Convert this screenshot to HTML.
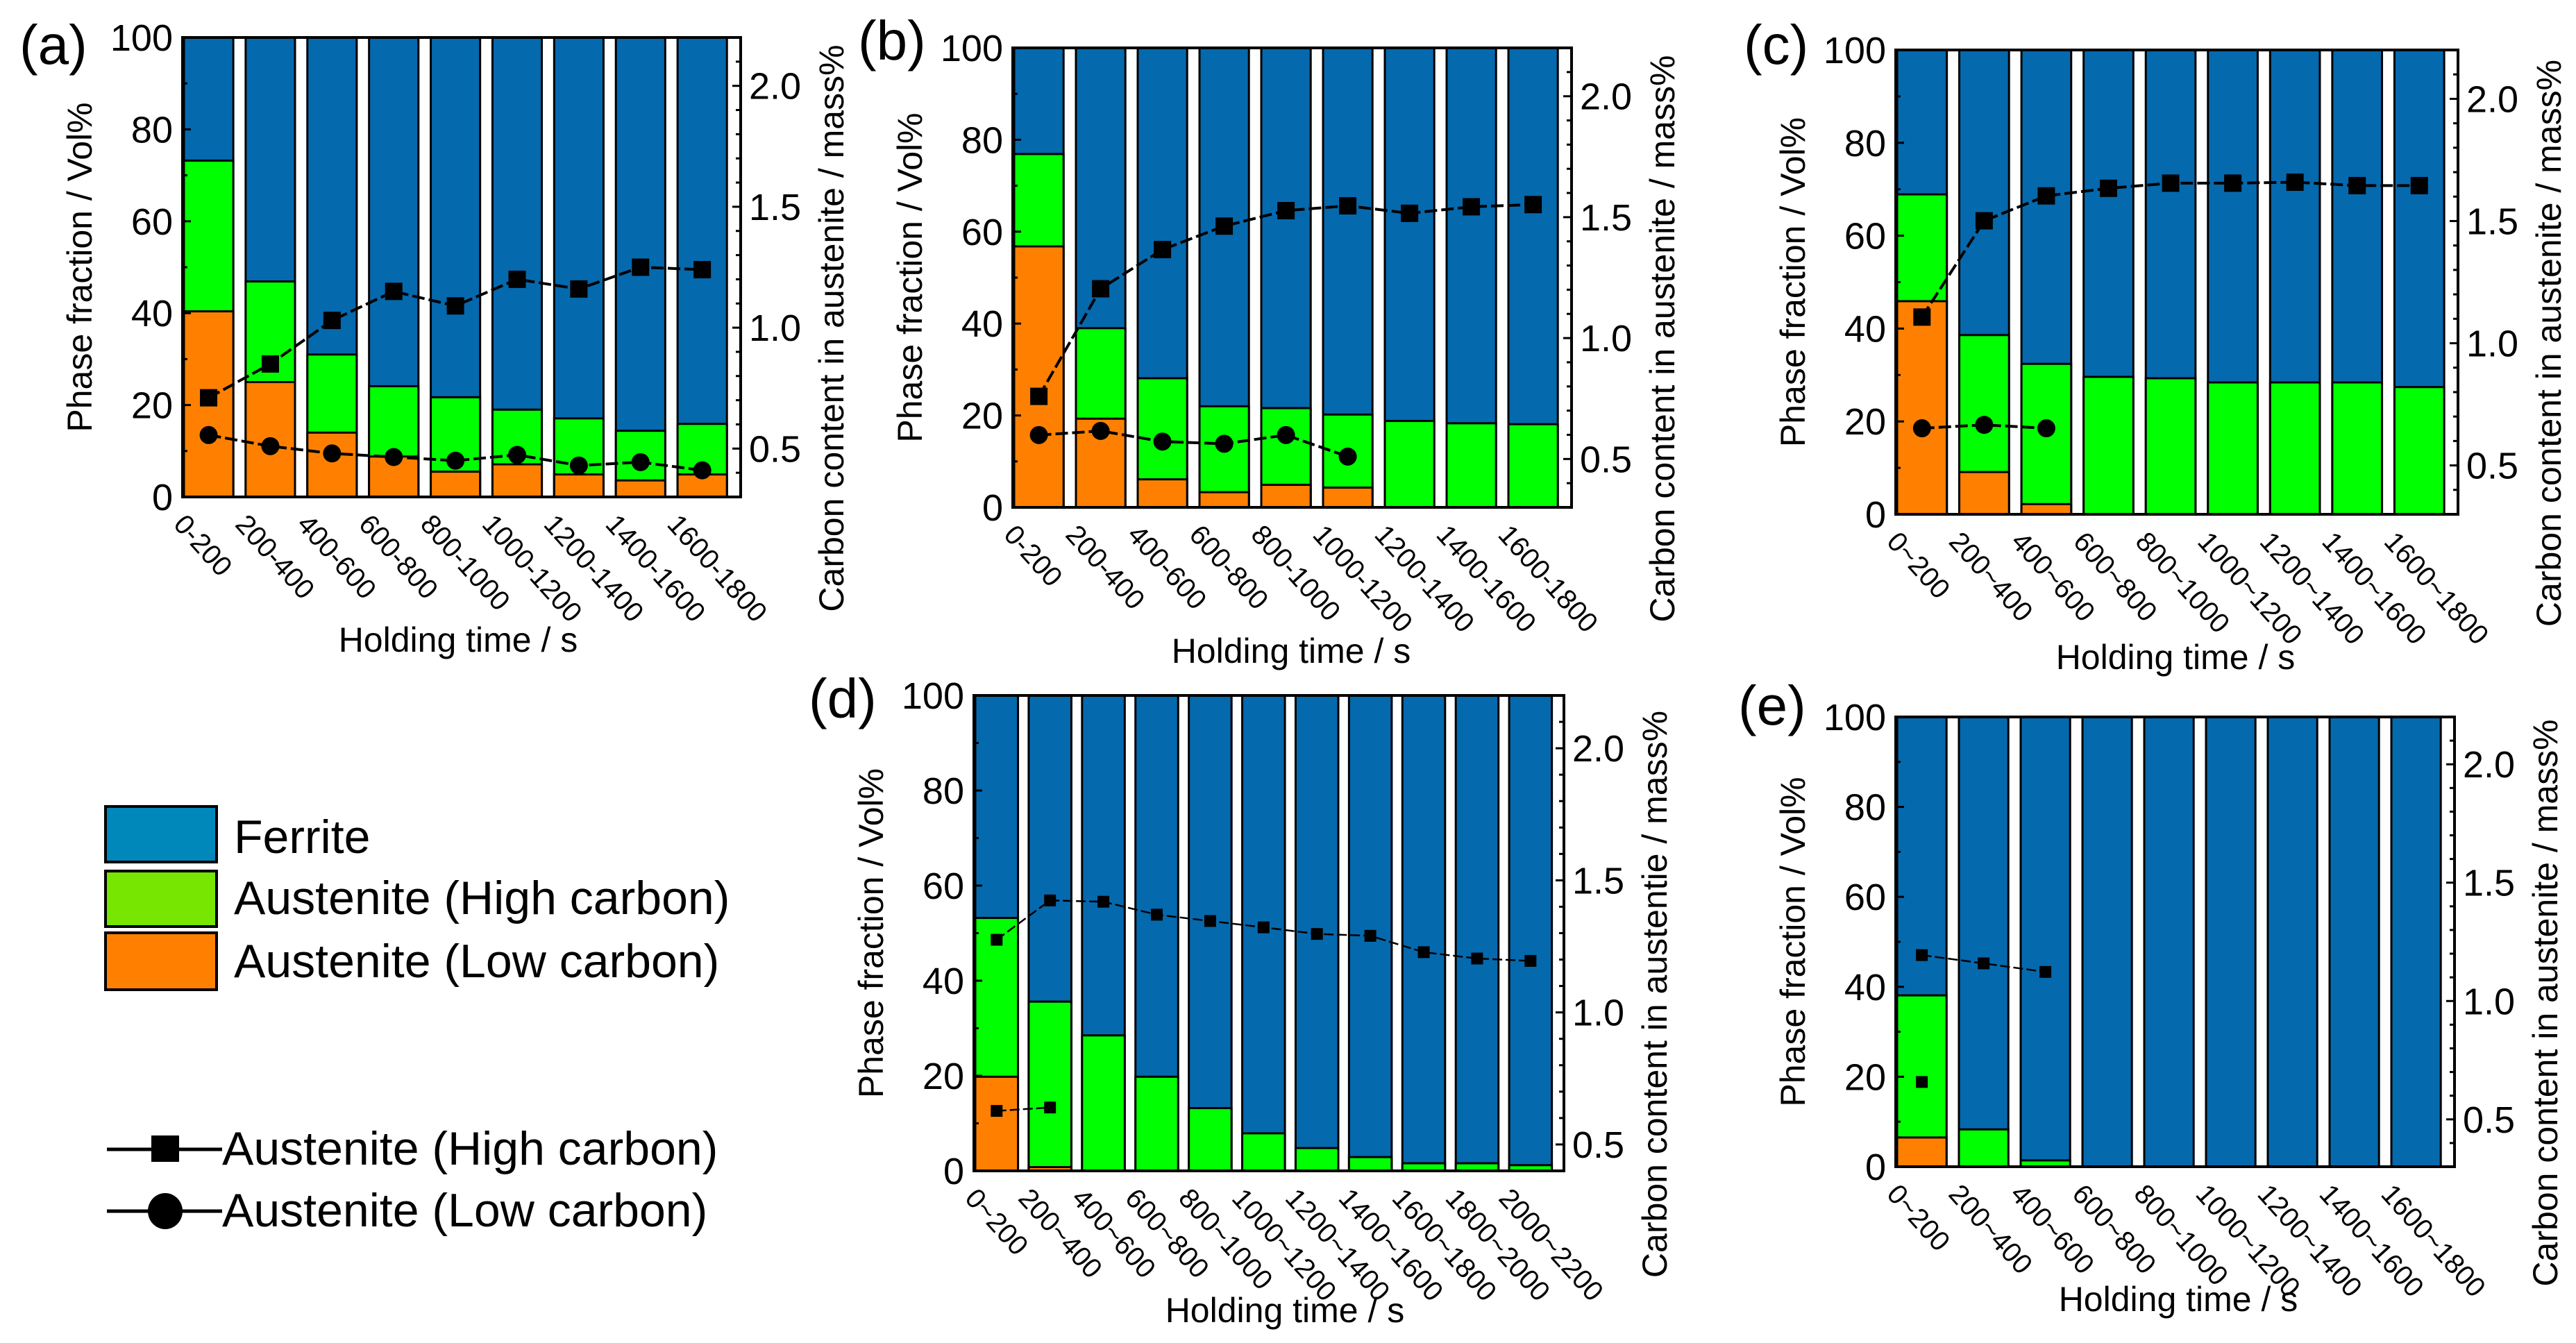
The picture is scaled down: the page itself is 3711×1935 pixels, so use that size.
<!DOCTYPE html>
<html><head><meta charset="utf-8"><style>
html,body{margin:0;padding:0;background:#fff;}
svg{display:block;font-family:"Liberation Sans",Arial,sans-serif;}
</style></head><body>
<svg id="fig" width="3711" height="1935" viewBox="0 0 3711 1935" xmlns="http://www.w3.org/2000/svg">
<g id="legend">
  <rect x="152" y="1162" width="160" height="80" fill="#0088bb" stroke="#000" stroke-width="4"/>
  <text x="337" y="1229" font-size="68">Ferrite</text>
  <rect x="152" y="1255" width="160" height="80" fill="#77e600" stroke="#000" stroke-width="4"/>
  <text x="337" y="1317" font-size="68">Austenite (High carbon)</text>
  <rect x="152" y="1344" width="160" height="82" fill="#ff8000" stroke="#000" stroke-width="4"/>
  <text x="337" y="1408" font-size="68">Austenite (Low carbon)</text>
  <line x1="154" y1="1656" x2="320" y2="1656" stroke="#000" stroke-width="5"/>
  <rect x="218" y="1636" width="40" height="38" fill="#000"/>
  <text x="320" y="1678" font-size="68">Austenite (High carbon)</text>
  <line x1="154" y1="1745" x2="320" y2="1745" stroke="#000" stroke-width="5"/>
  <ellipse cx="238" cy="1745" rx="25" ry="26" fill="#000"/>
  <text x="320" y="1767" font-size="68">Austenite (Low carbon)</text>
</g>
</svg>
<script>
// ---- Panel (a) ----
const catsA = ["0-200","200-400","400-600","600-800","800-1000","1000-1200","1200-1400","1400-1600","1600-1800"];
const lowFracA = [40.4,25,14,8.8,5.5,7.1,4.9,3.6,4.9];
const totalAustA = [73.2,46.9,31,24.1,21.7,19,17.1,14.4,15.9];
const highCA = [0.71,0.85,1.03,1.15,1.09,1.20,1.16,1.25,1.24];
const lowCA = [0.556,0.51,0.48,0.465,0.45,0.474,0.43,0.444,0.41];
// ---- Panel (b) ----
const catsB = ["0-200","200-400","400-600","600-800","800-1000","1000-1200","1200-1400","1400-1600","1600-1800"];
const lowFracB = [56.8,19.3,6.1,3.3,4.9,4.3,0,0,0];
const totalAustB = [76.9,39,28.1,22,21.6,20.2,18.8,18.3,18.1];
const highCB = [0.759,1.204,1.366,1.463,1.527,1.547,1.516,1.543,1.552];
const lowCB = [0.599,0.616,0.572,0.563,0.599,0.51,null,null,null];
// ---- Panel (c) ----
const catsC = ["0~200","200~400","400~600","600~800","800~1000","1000~1200","1200~1400","1400~1600","1600~1800"];
const lowFracC = [45.9,9.1,2.2,0,0,0,0,0,0];
const totalAustC = [68.9,38.6,32.4,29.6,29.3,28.4,28.4,28.4,27.4];
const highCC = [1.107,1.501,1.603,1.634,1.655,1.655,1.659,1.645,1.645];
const lowCC = [0.652,0.666,0.652,null,null,null,null,null,null];
// ---- Panel (d) ----
const catsD = ["0~200","200~400","400~600","600~800","800~1000","1000~1200","1200~1400","1400~1600","1600~1800","1800~2000","2000~2200"];
const lowFracD = [19.8,0.8,0,0,0,0,0,0,0,0,0];
const totalAustD = [53.2,35.6,28.5,19.8,13.2,7.9,4.8,2.9,1.6,1.6,1.2];
const highCD = [1.275,1.424,1.419,1.370,1.346,1.322,1.297,1.290,1.228,1.204,1.195];
const lowCD = [0.627,0.640,null,null,null,null,null,null,null,null,null];
// ---- Panel (e) ----
const catsE = ["0~200","200~400","400~600","600~800","800~1000","1000~1200","1200~1400","1400~1600","1600~1800"];
const lowFracE = [6.5,0,0,0,0,0,0,0,0];
const totalAustE = [38.1,8.3,1.4,0,0,0,0,0,0];
const highCE = [1.194,1.159,1.123,null,null,null,null,null,null];
const lowCE = [0.658,null,null,null,null,null,null,null,null];

const NS = "http://www.w3.org/2000/svg";
const svg = document.getElementById('fig');
function mk(tag, attrs, parent){ const e=document.createElementNS(NS,tag); for(const k in attrs) e.setAttribute(k,attrs[k]); (parent||svg).appendChild(e); return e; }

function panel(p){
  const g = mk('g',{});
  
  
  const W=p.r-p.l, H=p.b-p.t, n=p.cats.length;
  const yL = v => p.b - v/100*H;
  const yR = v => p.b - (v-p.rmin)/(p.rmax-p.rmin)*H;
  const slot=(W-4)/n, bw=slot*0.8;
  const xc = i => p.l+2+i*slot+bw/2;
  for(let i=0;i<n;i++){
    const x0=p.l+2+i*slot;
    const f=mk('rect',{x:x0,y:p.t,width:bw,height:H,fill:'#0569ae',stroke:'#000','stroke-width':3},g);
    
    
    if(p.tot[i]>0){
      const r=mk('rect',{x:x0,y:yL(p.tot[i]),width:bw,height:p.b-yL(p.tot[i]),fill:'#00ff00',stroke:'#000','stroke-width':3},g);
      
      
    }
    if(p.low[i]>0){
      const r=mk('rect',{x:x0,y:yL(p.low[i]),width:bw,height:p.b-yL(p.low[i]),fill:'#ff8000',stroke:'#000','stroke-width':3},g);
      
      
    }
    const t=mk('text',{x:x0+4,y:p.b+22,'font-size':40,transform:`rotate(48 ${x0+4} ${p.b+22})`,'dominant-baseline':'hanging'},g);
    t.textContent=p.cats[i];
    
    
  }
  const fr=mk('rect',{x:p.l,y:p.t,width:W,height:H,fill:'none',stroke:'#000','stroke-width':4},g);
  
  
  for(let v=0;v<=100;v+=10){
    const y=yL(v), len=v%20===0?12:7;
    mk('line',{x1:p.l,y1:y,x2:p.l+len,y2:y,stroke:'#000','stroke-width':3},g);
    if(v%20===0){
      const t=mk('text',{x:p.l-14,y:y+19,'font-size':54,'text-anchor':'end'},g);
      t.textContent=v;
      
      
    }
  }
  for(let k=Math.ceil(p.rmin*10);k<=Math.floor(p.rmax*10);k++){
    const v=k/10, y=yR(v), major=k%5===0, len=major?12:7;
    mk('line',{x1:p.r,y1:y,x2:p.r-len,y2:y,stroke:'#000','stroke-width':3},g);
    if(major){
      const t=mk('text',{x:p.r+12,y:y+19,'font-size':54},g);
      t.textContent=v.toFixed(1);
      
      
    }
  }
  const series=[[p.hc,'high'],[p.lc,'low']];
  series.forEach(([arr,nm])=>{
    let pts=[];
    arr.forEach((v,i)=>{ if(v!==null) pts.push([xc(i),yR(v)]); });
    if(pts.length>1 && !(p.noLowLine && nm==='low')){
      const pl=mk('polyline',{points:pts.map(q=>q.join(',')).join(' '),fill:'none',stroke:'#000','stroke-width':p.small?2.5:4,'stroke-dasharray':p.small?'14 5':'18 6'},g);
      
      
    }
    pts.forEach(q=>{
      let m;
      if(p.small || nm==='high'){
        const s=p.small?17:25;
        m=mk('rect',{x:q[0]-s/2,y:q[1]-s/2,width:s,height:s,fill:'#000'},g);
      } else {
        m=mk('circle',{cx:q[0],cy:q[1],r:13,fill:'#000'},g);
      }
      
      
    });
  });
  const cy=(p.t+p.b)/2;
  const lt=mk('text',{x:p.l-148,y:cy,'font-size':50,'text-anchor':'middle',transform:`rotate(-90 ${p.l-148} ${cy})`,'dominant-baseline':'central'},g);
  lt.textContent='Phase fraction / Vol%';
  
  
  const rx=p.r+131, ry=cy+88;
  const rt=mk('text',{x:rx,y:ry,'font-size':50,'text-anchor':'middle',transform:`rotate(-90 ${rx} ${ry})`,'dominant-baseline':'central'},g);
  rt.textContent=p.rtitle;
  
  
  const xt=mk('text',{x:p.xtx,y:p.xty+18,'font-size':50,'text-anchor':'middle'},g);
  xt.textContent='Holding time / s';
  
  
  const pl=mk('text',{x:p.lx,y:p.ly+28,'font-size':80},g);
  pl.textContent='('+p.id+')';
  
  
}
const RT='Carbon content in austenite / mass%';
panel({id:'a',l:263,r:1067,t:54,b:716,rmin:0.3,rmax:2.2,cats:catsA,low:lowFracA,tot:totalAustA,hc:highCA,lc:lowCA,rtitle:RT,xtx:660,xty:921,lx:28,ly:64});
panel({id:'b',l:1459,r:2264,t:69,b:731,rmin:0.3,rmax:2.2,cats:catsB,low:lowFracB,tot:totalAustB,hc:highCB,lc:lowCB,rtitle:RT,xtx:1860,xty:937,lx:1236,ly:58});
panel({id:'c',l:2731,r:3541,t:72,b:741,rmin:0.3,rmax:2.2,cats:catsC,low:lowFracC,tot:totalAustC,hc:highCC,lc:lowCC,rtitle:RT,xtx:3134,xty:946,lx:2512,ly:64});
panel({id:'d',l:1403,r:2253,t:1002,b:1687,rmin:0.4,rmax:2.2,cats:catsD,low:lowFracD,tot:totalAustD,hc:highCD,lc:lowCD,rtitle:'Carbon content in austentie / mass%',xtx:1851,xty:1887,lx:1165,ly:1006,small:true});
panel({id:'e',l:2731,r:3536,t:1033,b:1681,rmin:0.3,rmax:2.2,cats:catsE,low:lowFracE,tot:totalAustE,hc:highCE,lc:lowCE,rtitle:RT,xtx:3138,xty:1871,lx:2504,ly:1016,small:true,noLowLine:true});
</script>
</body></html>
